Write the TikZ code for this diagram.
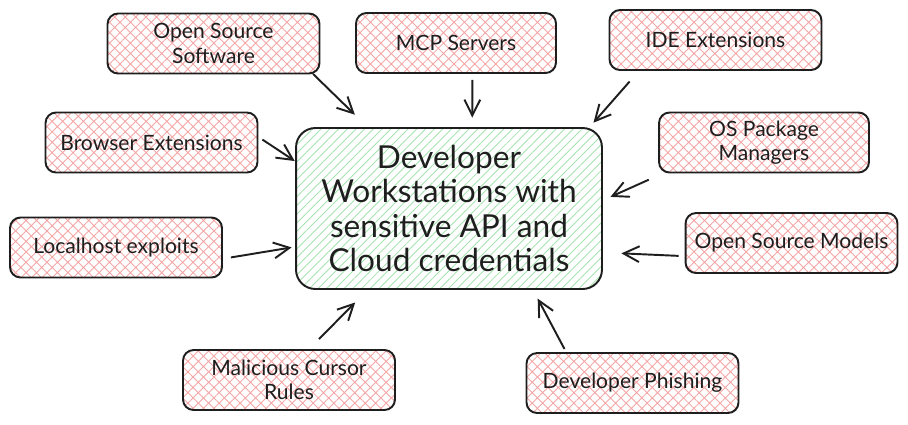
\documentclass[tikz,border=0pt]{standalone}
\usepackage{fontspec}
\setmainfont{Lato}
\usepackage{tikz}
\usetikzlibrary{arrows.meta,patterns.meta}
\definecolor{inkblack}{HTML}{1E1E1E}
\definecolor{hatchred}{HTML}{F4A5A5}
\definecolor{hatchgreen}{HTML}{A6E3B0}

\begin{document}
\begin{tikzpicture}[x=0.02cm, y=-0.02cm,
			source/.style={draw=inkblack, text=inkblack, line width=1.1pt, rounded corners=6pt, align=center, minimum width=4.24cm, minimum height=1.2cm, font=\fontsize{12}{14}\selectfont, pattern={Hatch[angle=45,distance=4.2pt,line width=0.5pt]}, pattern color=hatchred},
			target/.style={draw=inkblack, text=inkblack, line width=1.1pt, rounded corners=11pt, align=center, minimum width=6.12cm, minimum height=3.22cm, font=\fontsize{18}{19.5}\selectfont, pattern={Lines[angle=45,distance=3.5pt,line width=0.5pt]}, pattern color=hatchgreen},
			arrow/.style={-{Straight Barb[length=9pt,width=9pt]}, line width=1.1pt, draw=inkblack}
			]
			\useasboundingbox (0,0) rectangle (908,424);
			\node[target] (dev) at (449,208.5) {Developer\\Workstations with\\sensitive API and\\Cloud credentials};
			\node[source] (oss) at (213.5,43.5) {Open Source\\Software};
			\node[source, minimum width=4cm] (mcp) at (456,43) {MCP Servers};
			\node[source] (ide) at (715.5,40) {IDE Extensions};
			\node[source] (browser) at (151.5,142.5) {Browser Extensions};
			\node[source, minimum width=4.2cm] (ospkg) at (764,142.5) {OS Package\\Managers};
			\node[source] (localhost) at (116,247.5) {Localhost exploits};
			\node[source] (models) at (791.5,243) {Open Source Models};
			\node[source] (cursor) at (289,380) {Malicious Cursor\\Rules};
			\node[source] (phishing) at (632.5,383) {Developer Phishing};
			\draw[arrow, shorten >=10.5pt] (oss.-17) -- (dev.135);
			\draw[arrow, shorten <=3.4pt, shorten >=5.7pt] (mcp.-62) -- (dev.74);
			\draw[arrow, shorten <=8pt, shorten >=3.7pt] (ide.202) -- (dev.30);
			\draw[arrow, shorten <=2.7pt, shorten >=0.6pt] (browser.3) -- (dev.163);
			\draw[arrow, shorten <=8.7pt, shorten >=5pt] (ospkg.197) -- (dev.3);
			\draw[arrow, shorten <=4.6pt, shorten >=2.3pt] (localhost.-6) -- (dev.194);
			\draw[arrow, shorten <=3.4pt, shorten >=10.8pt] (models.187) -- (dev.-16);
			\draw[arrow, shorten <=8pt, shorten >=10.4pt] (cursor.57) -- (dev.225);
			\draw[arrow, shorten <=2pt, shorten >=5.9pt] (phishing.155) -- (dev.-44);
		\end{tikzpicture}
\end{document}
